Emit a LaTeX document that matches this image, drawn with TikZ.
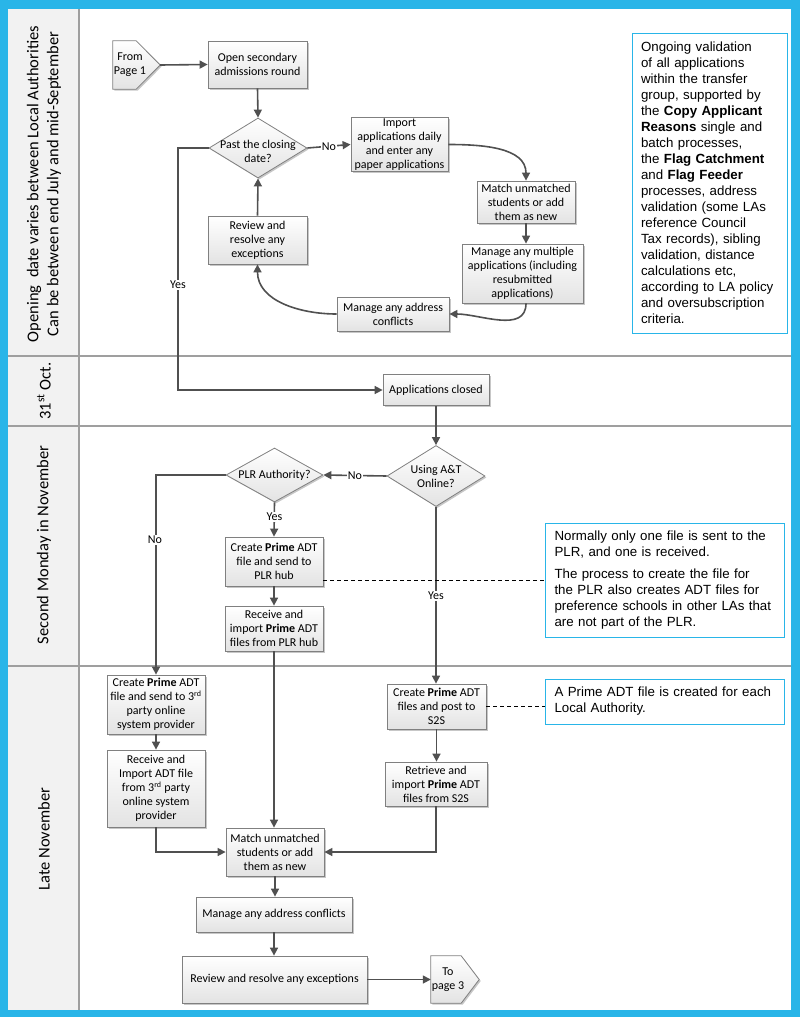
\documentclass[tikz,border=0pt]{standalone}
\usepackage{fontspec}
\setmainfont{Carlito}
\newfontfamily\notefont{Liberation Sans}
\usetikzlibrary{shapes.geometric,arrows.meta,shadows}
\definecolor{frameblue}{RGB}{41,181,232}
\definecolor{linegray}{RGB}{80,80,80}
\definecolor{boxborder}{RGB}{128,128,128}
\definecolor{lanefill}{RGB}{242,242,242}
\begin{document}
\begin{tikzpicture}[x=1pt,y=-1pt,
  every node/.style={font=\fontsize{12}{14}\selectfont},
  boxshadow/.style={drop shadow={shadow xshift=1.5pt,shadow yshift=-1.5pt,fill=black,opacity=0.22}},
  procbox/.style={rectangle, draw=boxborder, line width=0.8pt, top color=white, bottom color=gray!22,
    align=center, inner sep=1pt, boxshadow},
  decision/.style={diamond, draw=boxborder, line width=0.8pt, top color=white, bottom color=gray!22,
    inner sep=0pt, boxshadow},
  offpagearea/.style={rectangle, draw=none, inner sep=0pt},
  offpageshade/.style={draw=boxborder, line width=0.8pt, top color=white, bottom color=gray!22, boxshadow},
  offpagetext/.style={align=center, inner sep=0pt},
  notebox/.style={rectangle, draw=frameblue, line width=1pt, fill=white, align=left,
    font=\notefont\fontsize{13.3}{16}\selectfont, inner xsep=9pt},
  arr/.style={draw=linegray, line width=1.6pt, -{Triangle[length=8pt,width=8pt]}},
  dashline/.style={draw=black, line width=0.8pt, dash pattern=on 4pt off 3pt},
  lbl/.style={fill=white, inner sep=1pt},
  lanetext/.style={rotate=90, align=center, font=\fontsize{16.5}{20}\selectfont},
  laneline/.style={draw=gray!75, line width=1.3pt}
]
\useasboundingbox (0,0) rectangle (800,1017);
\fill[frameblue] (0,0) rectangle (800,1017);
\fill[white] (8,9) rectangle (791,1010);
\fill[lanefill] (8,9) rectangle (79,1010);
\draw[laneline] (79,9) -- (79,1010);
\draw[laneline] (8,356) -- (791,356);
\draw[laneline] (8,426) -- (791,426);
\draw[laneline] (8,666) -- (791,666);

% lane labels
\node[lanetext] (lane1) at (44,184) {Opening\ \ date varies between Local Authorities\\Can be between end July and mid-September};
\node[lanetext] (lane2) at (44,391) {31\textsuperscript{st} Oct.};
\node[lanetext] (lane3) at (44,545) {Second Monday in November};
\node[lanetext] (lane4) at (44,839) {Late November};

% top lane
\node[offpagearea, minimum width=47pt, minimum height=48pt] (fromp) at (136.5,65) {};
\shade[offpageshade] (fromp.north west) -- ([xshift=-24pt]fromp.north east) -- (fromp.east)
  -- ([xshift=-24pt]fromp.south east) -- (fromp.south west) -- cycle;
\node[offpagetext] (fromptext) at (130,64.5) {From\\Page 1};
\node[procbox, minimum width=99pt, minimum height=47pt] (open) at (257.5,64.5) {Open secondary\\admissions round};
\node[decision, minimum width=98pt, minimum height=60pt,
  label={[align=center,yshift=-3pt]center:Past the closing\\date?}] (past) at (258,148) {};
\node[procbox, minimum width=97pt, minimum height=53pt] (imp) at (399.5,144.5) {Import\\applications daily\\and enter any\\paper applications};
\node[procbox, minimum width=98pt, minimum height=42pt] (m1) at (526,202) {Match unmatched\\students or add\\them as new};
\node[procbox, minimum width=121pt, minimum height=59pt] (mult) at (522.5,273.5) {Manage any multiple\\applications (including\\resubmitted\\applications)};
\node[procbox, minimum width=112pt, minimum height=34pt] (addr1) at (393,314) {Manage any address\\conflicts};
\node[procbox, minimum width=99pt, minimum height=48pt] (rev1) at (257.5,240) {Review and\\resolve any\\exceptions};
\node[notebox, minimum width=155pt, minimum height=300pt, text width=137pt] (note0) at (709.5,183) {Ongoing validation\\of all applications\\within the transfer\\group, supported by\\the \textbf{Copy Applicant}\\\textbf{Reasons} single and\\batch processes,\\the \textbf{Flag Catchment}\\and \textbf{Flag Feeder}\\processes, address\\validation (some LAs\\reference Council\\Tax records), sibling\\validation, distance\\calculations etc,\\according to LA policy\\and oversubscription\\criteria.};

% 31st Oct lane
\node[procbox, minimum width=106pt, minimum height=31pt] (closed) at (436,390) {Applications closed};

% Second Monday lane
\node[decision, minimum width=98pt, minimum height=61pt,
  label={[align=center]center:Using A\&T\\Online?}] (using) at (436,476) {};
\node[decision, minimum width=97pt, minimum height=54pt,
  label={[align=center]center:PLR Authority?}] (plr) at (274.5,475) {};
\node[procbox, minimum width=98pt, minimum height=49pt] (plrhub) at (274,561.5) {Create \textbf{Prime} ADT\\file and send to\\PLR hub};
\node[procbox, minimum width=98pt, minimum height=45pt] (recv) at (274,628.5) {Receive and\\import \textbf{Prime} ADT\\files from PLR hub};
\node[notebox, minimum width=239pt, minimum height=114pt, text width=220pt] (note1) at (664.5,580) {Normally only one file is sent to the\\PLR, and one is received.\\[6pt]The process to create the file for\\the PLR also creates ADT files for\\preference schools in other LAs that\\are not part of the PLR.};

% Late November lane
\node[procbox, minimum width=98pt, minimum height=59pt] (tp1) at (156,704.5) {Create \textbf{Prime} ADT\\file and send to 3\textsuperscript{rd}\\party online\\system provider};
\node[procbox, minimum width=98pt, minimum height=77pt] (tp2) at (156,788.5) {Receive and\\Import ADT file\\from 3\textsuperscript{rd} party\\online system\\provider};
\node[procbox, minimum width=99pt, minimum height=45pt] (s2s) at (436.5,706.5) {Create \textbf{Prime} ADT\\files and post to\\S2S};
\node[procbox, minimum width=102pt, minimum height=44pt] (ret) at (436,784) {Retrieve and\\import \textbf{Prime} ADT\\files from S2S};
\node[notebox, minimum width=239pt, minimum height=45pt, text width=220pt] (note2) at (664.5,701.5) {A Prime ADT file is created for each\\Local Authority.};
\node[procbox, minimum width=98pt, minimum height=48pt] (m2) at (275,852) {Match unmatched\\students or add\\them as new};
\node[procbox, minimum width=156pt, minimum height=35pt] (addr2) at (274,914.5) {Manage any address conflicts};
\node[procbox, minimum width=185pt, minimum height=47pt] (rev2) at (274.5,979.5) {Review and resolve any exceptions};
\node[offpagearea, minimum width=48pt, minimum height=47pt] (top3) at (455,979.5) {};
\shade[offpageshade] (top3.north west) -- ([xshift=-18pt]top3.north east) -- (top3.east)
  -- ([xshift=-18pt]top3.south east) -- (top3.south west) -- cycle;
\node[offpagetext] (top3text) at (448,979.5) {To\\page 3};

% helper coordinates
\coordinate (yk) at (178,0);
\coordinate (d1) at (0,580);

% connectors: top lane
\draw[arr] (fromp.east) -- (open.west);
\draw[arr] (open.south) -- (past.north);
\draw[arr] (past.east) -- node[lbl] (no1) {No} (imp.west);
\draw[arr] (imp.east) to[out=0,in=90] (m1.north);
\draw[arr] (m1.south) -- (m1.south |- mult.north);
\draw[arr] (m1.south |- mult.south) to[out=-90,in=0] (addr1.east);
\draw[arr] (addr1.west) to[out=180,in=-90] (rev1.south);
\draw[arr] (rev1.north) -- (past.south);
\draw[arr] (past.west) -- (past.west -| yk) -- (yk |- closed.west) -- (closed.west);
\node[lbl] (yes1) at (178,285) {Yes};

% connectors: 31st Oct / Second Monday
\draw[arr] (closed.south) -- (using.north);
\draw[arr] (using.west) -- node[lbl] (no2) {No} (plr.east);
\draw[arr] (plr.west) -| (tp1.north);
\node[lbl] (no3) at (155,540) {No};
\draw[arr] (plr.south) -- (plrhub.north);
\node[lbl] (yes2) at (274.5,517) {Yes};
\draw[arr] (plrhub.south) -- (recv.north);
\draw[arr] (recv.south) -- (recv.south |- m2.north);
\draw[arr] (using.south) -- (using.south |- s2s.north);
\node[lbl] (yes3) at (436,596) {Yes};
\draw[dashline] (plrhub.east |- d1) -- (note1.west |- d1);

% connectors: Late November
\draw[arr] (tp1.south) -- (tp2.north);
\draw[arr] (s2s.south) -- (s2s.south |- ret.north);
\draw[dashline] (s2s.east) -- (note2.west |- s2s.east);
\draw[arr] (tp2.south) |- (m2.west);
\draw[arr] (ret.south) |- (m2.east);
\draw[arr] (m2.south) -- (m2.south |- addr2.north);
\draw[arr] (addr2.south) -- (addr2.south |- rev2.north);
\draw[arr] (rev2.east) -- (top3.west);
\end{tikzpicture}
\end{document}
